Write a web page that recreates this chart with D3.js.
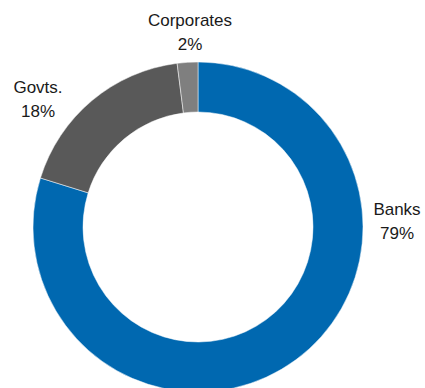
<!DOCTYPE html>
<html>
<head>
<meta charset="utf-8">
<script src="https://cdn.jsdelivr.net/npm/d3@7"></script>
<style>
  html, body { margin: 0; padding: 0; background: #fff; }
  svg { display: block; }
  text { font-family: "Liberation Sans", Arial, sans-serif; font-size: 17px; fill: #1a1a1a; }
</style>
</head>
<body>
<svg id="chart" width="425" height="388"></svg>
<script>
// Holders of the debt, share in percent
const categories = ["Banks", "Govts.", "Corporates"];
const values = [79, 18, 2];
const colors = ["#0068b0", "#595959", "#7f7f7f"];
// Label anchor points (name line baseline) for each slice
const labelPos = [[397, 215], [38, 93], [190, 26]];

const width = 425, height = 388;
const cx = 198, cy = 227;
const outerR = 165, innerR = 115;

const svg = d3.select("#chart");
const g = svg.append("g").attr("transform", `translate(${cx},${cy})`);

const pie = d3.pie().sort(null).value(d => d.value);
const arc = d3.arc().innerRadius(innerR).outerRadius(outerR);

const data = categories.map((c, i) => ({ name: c, value: values[i], color: colors[i], pos: labelPos[i] }));

g.selectAll("path")
  .data(pie(data))
  .join("path")
  .attr("d", arc)
  .attr("fill", d => d.data.color)
  .attr("stroke", "#ffffff")
  .attr("stroke-width", 0.5);

const labels = svg.selectAll("g.label")
  .data(data)
  .join("g")
  .attr("class", "label")
  .attr("transform", d => `translate(${d.pos[0]},${d.pos[1]})`);

labels.append("text")
  .attr("text-anchor", "middle")
  .text(d => d.name);

labels.append("text")
  .attr("text-anchor", "middle")
  .attr("y", 24)
  .text(d => d.value + "%");
</script>
</body>
</html>
